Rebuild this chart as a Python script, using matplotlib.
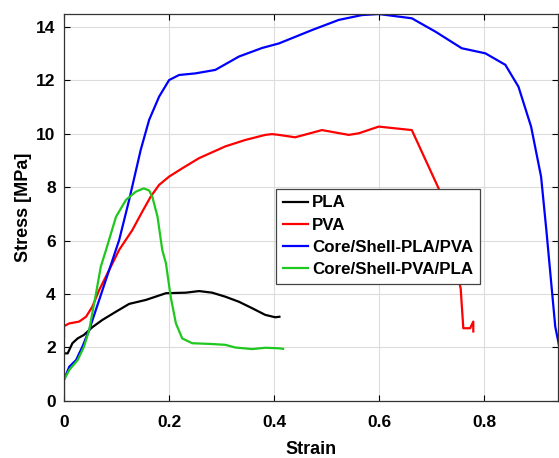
import matplotlib.pyplot as plt

plt.rcParams['font.family'] = ['Liberation Sans', 'DejaVu Sans']

# PLA
pla_strain = [0.0, 0.007, 0.016, 0.026, 0.038, 0.054, 0.073, 0.099, 0.124, 0.156,
              0.194, 0.232, 0.257, 0.282, 0.307, 0.333, 0.358, 0.383, 0.402, 0.410]
pla_stress = [1.78, 1.78, 2.16, 2.34, 2.47, 2.76, 3.03, 3.34, 3.63, 3.78,
              4.03, 4.05, 4.11, 4.05, 3.90, 3.71, 3.47, 3.22, 3.13, 3.15]

# PVA
pva_strain = [0.0, 0.0, 0.010, 0.029, 0.042, 0.054, 0.067, 0.086, 0.105, 0.130,
              0.149, 0.165, 0.181, 0.200, 0.225, 0.257, 0.307, 0.345, 0.383, 0.396,
              0.409, 0.440, 0.491, 0.542, 0.561, 0.599, 0.662, 0.713, 0.755, 0.760,
              0.773, 0.779, 0.779]
pva_stress = [2.40, 2.80, 2.90, 2.97, 3.15, 3.53, 4.15, 4.90, 5.65, 6.39,
              7.08, 7.64, 8.08, 8.39, 8.70, 9.08, 9.52, 9.76, 9.95, 9.98,
              9.95, 9.86, 10.13, 9.95, 10.01, 10.26, 10.13, 7.95, 4.20, 2.72,
              2.72, 2.97, 2.60]

# Core/Shell-PLA/PVA
cs1_strain = [0.0, 0.010, 0.023, 0.035, 0.048, 0.067, 0.086, 0.105, 0.124, 0.146,
              0.162, 0.181, 0.200, 0.219, 0.250, 0.288, 0.333, 0.377, 0.409, 0.472,
              0.523, 0.567, 0.599, 0.662, 0.707, 0.757, 0.802, 0.840, 0.865, 0.889,
              0.908, 0.918, 0.935, 0.945]
cs1_stress = [0.79, 1.28, 1.53, 2.03, 2.66, 3.78, 4.90, 6.02, 7.52, 9.39,
              10.51, 11.38, 12.00, 12.19, 12.25, 12.38, 12.88, 13.20, 13.37, 13.87,
              14.25, 14.43, 14.47, 14.31, 13.81, 13.19, 13.00, 12.57, 11.75, 10.26,
              8.39, 6.40, 2.78, 1.80]

# Core/Shell-PVA/PLA
cs2_strain = [0.0, 0.0, 0.010, 0.026, 0.038, 0.048, 0.061, 0.070, 0.080, 0.099,
              0.118, 0.137, 0.152, 0.162, 0.168, 0.178, 0.187, 0.194, 0.203, 0.213,
              0.225, 0.244, 0.282, 0.307, 0.326, 0.358, 0.383, 0.409, 0.417]
cs2_stress = [0.0, 0.79, 1.16, 1.53, 2.03, 2.66, 4.03, 5.02, 5.65, 6.89,
              7.52, 7.83, 7.95, 7.87, 7.64, 6.89, 5.65, 5.15, 3.90, 2.90,
              2.34, 2.16, 2.13, 2.10, 2.00, 1.94, 1.99, 1.97, 1.95]

labels = ['PLA', 'PVA', 'Core/Shell-PLA/PVA', 'Core/Shell-PVA/PLA']
colors = ['black', '#ff0000', '#0000ff', '#1ec81e']

fig = plt.figure(figsize=(5.59, 4.58), dpi=100)
ax = fig.add_axes([0.1145, 0.1245, 0.8835, 0.8443])

series = [(pla_strain, pla_stress), (pva_strain, pva_stress),
          (cs1_strain, cs1_stress), (cs2_strain, cs2_stress)]
for (xs, ys), label, color in zip(series, labels, colors):
    ax.plot(xs, ys, color=color, lw=1.6, label=label)

ax.set_xlim(0, 0.94)
ax.set_ylim(0, 14.46)
ax.set_xticks([0, 0.2, 0.4, 0.6, 0.8])
ax.set_xticklabels(['0', '0.2', '0.4', '0.6', '0.8'])
ax.set_yticks(range(0, 15, 2))
ax.grid(True, color='#dcdcdc', lw=0.8)
ax.tick_params(direction='in', top=True, right=True, labelsize=12.5, length=4,
               width=0.8)
ax.tick_params(axis='x', pad=10)
ax.tick_params(axis='y', pad=6)
for lab in ax.get_xticklabels() + ax.get_yticklabels():
    lab.set_fontweight('bold')
for sp in ax.spines.values():
    sp.set_color('#333333')
    sp.set_linewidth(0.9)

ax.set_xlabel('Strain', fontsize=13, fontweight='bold', labelpad=8)
ax.set_ylabel('Stress [MPa]', fontsize=13, fontweight='bold', labelpad=3)

leg = ax.legend(loc='upper left', bbox_to_anchor=(0.429, 0.549), fancybox=False,
                framealpha=1, edgecolor='#444444', handlelength=1.5,
                handletextpad=0.25, borderpad=0.4, labelspacing=0.42,
                borderaxespad=0, prop={'weight': 'bold', 'size': 12.2})
leg.get_frame().set_linewidth(0.9)

fig.savefig('out.png', dpi=100)
